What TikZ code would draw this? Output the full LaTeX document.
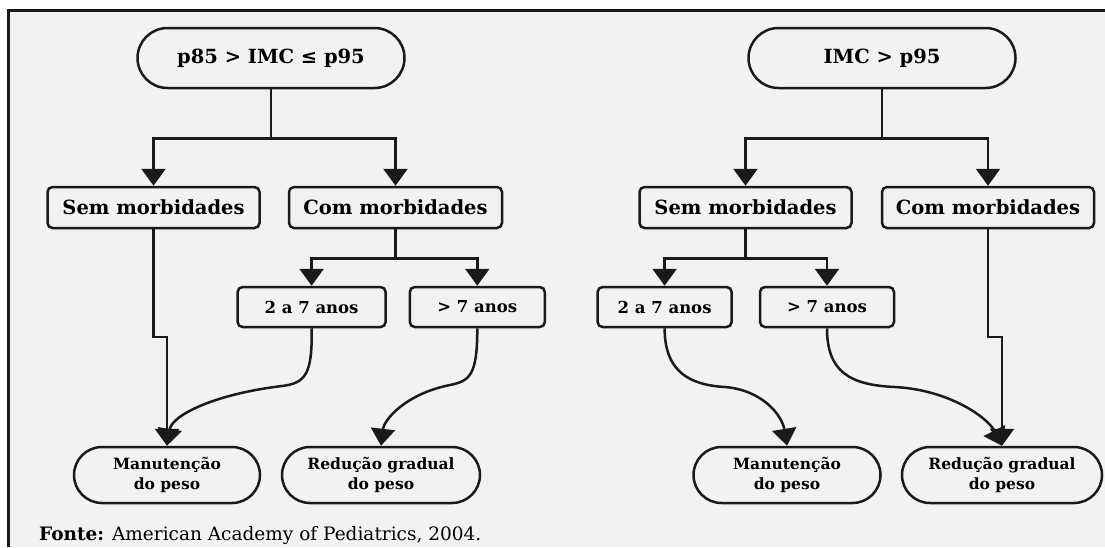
\documentclass[tikz,border=0pt]{standalone}
\usepackage{fontspec}
\setmainfont{DejaVu Serif}
\usetikzlibrary{shapes.misc,arrows.meta}
\definecolor{bg}{HTML}{F2F2F2}
\definecolor{ink}{HTML}{1A1A1A}
\begin{document}
\begin{tikzpicture}[x=1pt,y=-1pt,
  stadium/.style={rounded rectangle, draw=ink, line width=2.5pt, inner sep=0pt, font=\bfseries\fontsize{19.5}{22}\selectfont, align=center},
  boxnode/.style={rectangle, rounded corners=5pt, draw=ink, line width=2.5pt, inner sep=0pt, minimum height=41pt, font=\bfseries\fontsize{19.5}{22}\selectfont},
  small/.style={boxnode, minimum height=40pt, font=\bfseries\fontsize{16.5}{18}\selectfont},
  res/.style={stadium, minimum height=56pt, font=\bfseries\fontsize{15.5}{20}\selectfont},
  arr/.style={draw=ink, line width=2.5pt, -{Triangle[width=24pt,length=17pt]}},
  ln/.style={draw=ink, line width=2.5pt}]
\useasboundingbox (0,0) rectangle (1105,547);
\fill[white] (0,0) rectangle (1105,547);
\fill[bg] (8,10) rectangle (1105,547);
\draw[ink, line width=3pt] (8,547) -- (8,10) -- (1105,10);

% left tree
\node[stadium, minimum width=267pt, minimum height=60pt] (l1) at (271,58) {p85 > IMC ≤ p95};
\node[boxnode, minimum width=212pt] (ls) at (153.5,207.5) {Sem morbidades};
\node[boxnode, minimum width=213pt] (lc) at (395.5,207.5) {Com morbidades};
\node[small, minimum width=148pt] (la) at (311.6,307) {2 a 7 anos};
\node[small, minimum width=135pt] (lb) at (477.3,307) {> 7 anos};
\node[res, minimum width=186pt] (lm) at (167,475) {Manutenção\\do peso};
\node[res, minimum width=198pt] (lr) at (381,475) {Redução gradual\\do peso};

% right tree
\node[stadium, minimum width=267pt, minimum height=60pt] (r1) at (882,58) {IMC > p95};
\node[boxnode, minimum width=212pt] (rs) at (745.5,207.5) {Sem morbidades};
\node[boxnode, minimum width=212pt] (rc) at (988,207.5) {Com morbidades};
\node[small, minimum width=134pt] (ra) at (664.6,307) {2 a 7 anos};
\node[small, minimum width=134pt] (rb) at (827,307) {> 7 anos};
\node[res, minimum width=187pt] (rm) at (787,475) {Manutenção\\do peso};
\node[res, minimum width=200pt] (rr) at (1002,475) {Redução gradual\\do peso};

\node[anchor=base west, inner sep=0pt, font=\fontsize{18.5}{20}\selectfont] (fonte) at (39,540) {\textbf{Fonte:} American Academy of Pediatrics, 2004.};

\coordinate (jl) at (0,337);

% left connectors
\draw[arr] (l1.south) -- ++(0,49) -| (ls.north);
\draw[arr] (l1.south) -- ++(0,49) -| (lc.north);
\draw[arr] (lc.south) -- ++(0,29) -| (la.north);
\draw[arr] (lc.south) -- ++(0,29) -| (lb.north);
\draw[arr] (ls.south) -- (ls.south |- jl) -| (lm.north);
\draw[arr] (la.south) .. controls (312.6,375) and (305,383) .. (282,386)
  .. controls (215,394) and (172,415) .. (lm.north);
\draw[arr] (lb.south) .. controls (477.3,375) and (470,381) .. (450,385)
  .. controls (405,394) and (384,420) .. (lr.north);

% right connectors
\draw[arr] (r1.south) -- ++(0,49) -| (rs.north);
\draw[arr] (r1.south) -- ++(0,49) -| (rc.north);
\draw[arr] (rs.south) -- ++(0,29) -| (ra.north);
\draw[arr] (rs.south) -- ++(0,29) -| (rb.north);
\draw[arr] (rc.south) -- (rc.south |- jl) -| (rr.north);
\draw[arr] (ra.south) .. controls (664.6,372) and (690,385) .. (725,387)
  .. controls (762,390) and (782,415) .. (rm.north);
\draw[arr] (rb.south) .. controls (827,372) and (850,385) .. (895,387)
  .. controls (950,390) and (988,418) .. (rr.north);
\end{tikzpicture}
\end{document}
